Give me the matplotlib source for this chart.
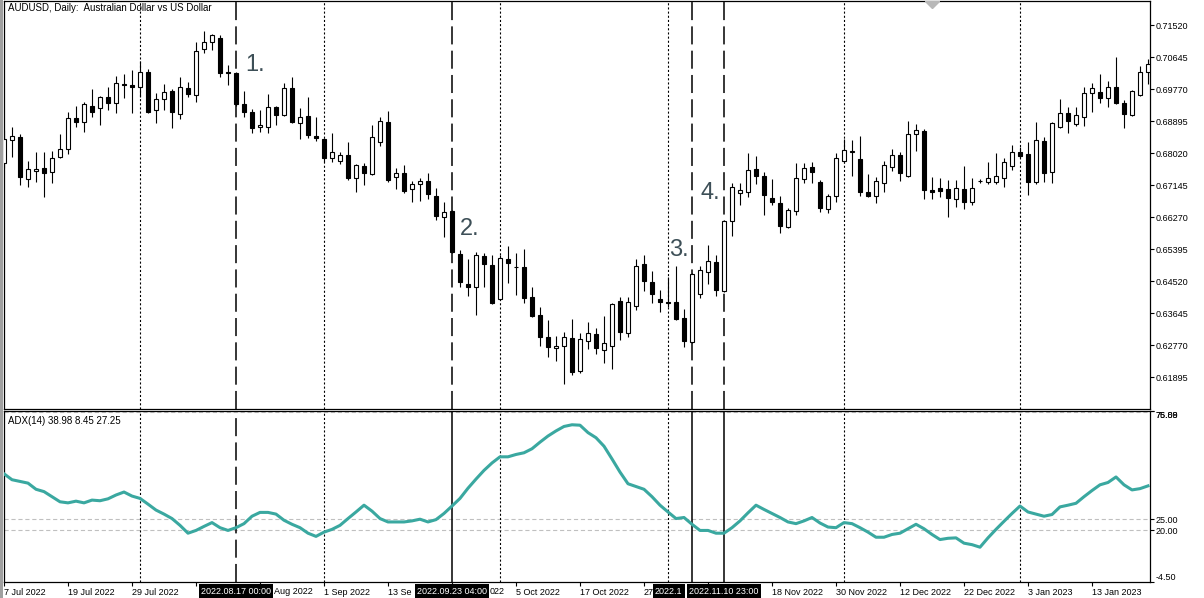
import numpy as np
import pandas as pd
import matplotlib
matplotlib.use("Agg")
import matplotlib.pyplot as plt
import matplotlib.transforms as mtransforms
from matplotlib.patches import Rectangle

plt.rcParams['font.family'] = ['Liberation Sans', 'DejaVu Sans']
plt.rcParams['lines.scale_dashes'] = False

# AUDUSD daily bars, 7 Jul 2022 .. 24 Jan 2023
dates = pd.bdate_range('2022-07-07', periods=144)

opens = [0.6775, 0.6838, 0.6846, 0.6731, 0.6753, 0.6761, 0.6750, 0.6791, 0.6813, 0.6898,
         0.6887, 0.6933, 0.6925, 0.6955, 0.6939, 0.6991, 0.6988, 0.6983, 0.7026, 0.6920,
         0.6950, 0.6972, 0.6909, 0.6980, 0.6961, 0.7089, 0.7106, 0.7119, 0.7024, 0.7021,
         0.6936, 0.6914, 0.6873, 0.6873, 0.6928, 0.6906, 0.6980, 0.6884, 0.6903, 0.6849,
         0.6841, 0.6789, 0.6780, 0.6797, 0.6734, 0.6767, 0.6745, 0.6832, 0.6887, 0.6737,
         0.6748, 0.6704, 0.6718, 0.6726, 0.6685, 0.6628, 0.6644, 0.6526, 0.6444, 0.6436,
         0.6521, 0.6496, 0.6403, 0.6513, 0.6491, 0.6491, 0.6409, 0.6360, 0.6300, 0.6270,
         0.6275, 0.6297, 0.6207, 0.6289, 0.6308, 0.6264, 0.6275, 0.6398, 0.6311, 0.6384,
         0.6499, 0.6450, 0.6403, 0.6395, 0.6395, 0.6352, 0.6286, 0.6417, 0.6477, 0.6505,
         0.6425, 0.6617, 0.6693, 0.6696, 0.6759, 0.6740, 0.6679, 0.6666, 0.6600, 0.6644,
         0.6731, 0.6764, 0.6723, 0.6649, 0.6685, 0.6780, 0.6807, 0.6786, 0.6696, 0.6685,
         0.6720, 0.6764, 0.6797, 0.6740, 0.6854, 0.6862, 0.6701, 0.6707, 0.6704, 0.6677,
         0.6704, 0.6668, 0.6726, 0.6723, 0.6723, 0.6734, 0.6767, 0.6805, 0.6800, 0.6723,
         0.6835, 0.6750, 0.6873, 0.6912, 0.6882, 0.6901, 0.6966, 0.6969, 0.6953, 0.6983,
         0.6939, 0.6906, 0.6961, 0.7026]
highs = [0.6865, 0.6873, 0.6854, 0.6780, 0.6805, 0.6805, 0.6808, 0.6854, 0.6914, 0.6931,
         0.6942, 0.6977, 0.6958, 0.6983, 0.7013, 0.7018, 0.7029, 0.7054, 0.7032, 0.6966,
         0.6991, 0.6977, 0.7010, 0.6996, 0.7106, 0.7136, 0.7130, 0.7127, 0.7043, 0.7024,
         0.6972, 0.6923, 0.6920, 0.6964, 0.6933, 0.6994, 0.7010, 0.6925, 0.6955, 0.6901,
         0.6843, 0.6857, 0.6805, 0.6832, 0.6772, 0.6775, 0.6879, 0.6901, 0.6917, 0.6761,
         0.6770, 0.6726, 0.6734, 0.6748, 0.6707, 0.6668, 0.6647, 0.6537, 0.6513, 0.6532,
         0.6529, 0.6524, 0.6524, 0.6548, 0.6529, 0.6540, 0.6436, 0.6382, 0.6346, 0.6302,
         0.6313, 0.6349, 0.6311, 0.6341, 0.6324, 0.6357, 0.6393, 0.6409, 0.6409, 0.6513,
         0.6524, 0.6480, 0.6428, 0.6464, 0.6494, 0.6376, 0.6474, 0.6494, 0.6551, 0.6524,
         0.6619, 0.6720, 0.6720, 0.6802, 0.6794, 0.6750, 0.6731, 0.6685, 0.6652, 0.6775,
         0.6775, 0.6778, 0.6729, 0.6690, 0.6802, 0.6841, 0.6838, 0.6851, 0.6745, 0.6737,
         0.6780, 0.6813, 0.6805, 0.6892, 0.6882, 0.6868, 0.6737, 0.6734, 0.6729, 0.6729,
         0.6767, 0.6734, 0.6731, 0.6778, 0.6802, 0.6789, 0.6824, 0.6819, 0.6832, 0.6887,
         0.6846, 0.6887, 0.6950, 0.6928, 0.6928, 0.6985, 0.6994, 0.7018, 0.6999, 0.7065,
         0.6947, 0.6976, 0.7040, 0.7059]
lows = [0.6761, 0.6791, 0.6715, 0.6709, 0.6723, 0.6682, 0.6720, 0.6789, 0.6800, 0.6873,
        0.6860, 0.6901, 0.6879, 0.6920, 0.6912, 0.6953, 0.6912, 0.6955, 0.6912, 0.6884,
        0.6920, 0.6871, 0.6895, 0.6955, 0.6944, 0.7076, 0.7084, 0.7010, 0.6988, 0.6933,
        0.6901, 0.6857, 0.6860, 0.6857, 0.6879, 0.6903, 0.6885, 0.6841, 0.6843, 0.6835,
        0.6778, 0.6778, 0.6772, 0.6729, 0.6696, 0.6715, 0.6742, 0.6821, 0.6723, 0.6704,
        0.6693, 0.6668, 0.6671, 0.6677, 0.6619, 0.6573, 0.6529, 0.6436, 0.6412, 0.6360,
        0.6436, 0.6391, 0.6400, 0.6447, 0.6414, 0.6393, 0.6354, 0.6275, 0.6245, 0.6234,
        0.6171, 0.6196, 0.6201, 0.6267, 0.6253, 0.6229, 0.6212, 0.6291, 0.6300, 0.6373,
        0.6425, 0.6393, 0.6368, 0.6382, 0.6346, 0.6272, 0.6283, 0.6406, 0.6444, 0.6412,
        0.6423, 0.6576, 0.6660, 0.6682, 0.6718, 0.6633, 0.6660, 0.6584, 0.6597, 0.6633,
        0.6720, 0.6720, 0.6641, 0.6638, 0.6668, 0.6775, 0.6740, 0.6685, 0.6682, 0.6666,
        0.6696, 0.6753, 0.6726, 0.6738, 0.6808, 0.6677, 0.6677, 0.6682, 0.6628, 0.6655,
        0.6649, 0.6660, 0.6720, 0.6718, 0.6718, 0.6709, 0.6756, 0.6789, 0.6688, 0.6718,
        0.6723, 0.6720, 0.6872, 0.6857, 0.6876, 0.6876, 0.6914, 0.6939, 0.6928, 0.6937,
        0.6871, 0.6904, 0.6959, 0.6991]
closes = [0.6841, 0.6849, 0.6737, 0.6759, 0.6759, 0.6748, 0.6789, 0.6813, 0.6898, 0.6887,
          0.6936, 0.6914, 0.6955, 0.6939, 0.6994, 0.6990, 0.6983, 0.7026, 0.6914, 0.6950,
          0.6969, 0.6914, 0.6985, 0.6964, 0.7081, 0.7106, 0.7127, 0.7021, 0.7021, 0.6936,
          0.6914, 0.6871, 0.6879, 0.6928, 0.6906, 0.6980, 0.6887, 0.6901, 0.6852, 0.6843,
          0.6789, 0.6805, 0.6797, 0.6734, 0.6770, 0.6748, 0.6846, 0.6890, 0.6729, 0.6748,
          0.6699, 0.6718, 0.6726, 0.6690, 0.6630, 0.6641, 0.6532, 0.6450, 0.6436, 0.6524,
          0.6499, 0.6393, 0.6515, 0.6502, 0.6490, 0.6406, 0.6357, 0.6300, 0.6272, 0.6275,
          0.6300, 0.6204, 0.6294, 0.6311, 0.6270, 0.6283, 0.6390, 0.6313, 0.6395, 0.6494,
          0.6453, 0.6417, 0.6395, 0.6394, 0.6349, 0.6289, 0.6472, 0.6483, 0.6507, 0.6428,
          0.6617, 0.6709, 0.6701, 0.6756, 0.6740, 0.6688, 0.6668, 0.6603, 0.6647, 0.6734,
          0.6761, 0.6750, 0.6652, 0.6685, 0.6789, 0.6811, 0.6808, 0.6696, 0.6685, 0.6726,
          0.6770, 0.6797, 0.6748, 0.6854, 0.6865, 0.6701, 0.6696, 0.6699, 0.6679, 0.6707,
          0.6668, 0.6707, 0.6727, 0.6734, 0.6740, 0.6778, 0.6805, 0.6794, 0.6723, 0.6838,
          0.6748, 0.6884, 0.6912, 0.6890, 0.6906, 0.6966, 0.6980, 0.6953, 0.6985, 0.6939,
          0.6909, 0.6974, 0.7026, 0.7046]

# ADX(14) main line
adx = [46.5, 43.7, 42.9, 42.1, 39.2, 38.1, 35.7, 33.3, 32.8, 33.6,
       32.8, 34.1, 33.8, 34.7, 36.5, 37.9, 36.0, 34.9, 32.2, 29.4,
       27.5, 25.4, 22.2, 18.5, 19.8, 21.7, 23.5, 21.1, 19.8, 21.1,
       23.0, 26.5, 28.3, 28.3, 27.5, 24.6, 22.7, 21.1, 18.5, 17.0,
       19.0, 20.3, 22.2, 25.4, 28.5, 31.7, 28.9, 25.4, 23.8, 23.8,
       23.8, 24.3, 25.1, 23.8, 24.9, 27.8, 31.3, 34.9, 39.7, 44.0,
       48.1, 51.6, 54.5, 54.5, 55.6, 56.4, 58.3, 61.4, 64.3, 66.7,
       68.8, 69.6, 69.4, 65.9, 63.5, 59.5, 53.5, 47.3, 41.8, 40.5,
       39.2, 35.7, 31.7, 28.5, 25.4, 25.9, 22.7, 19.8, 19.8, 18.5,
       18.5, 21.1, 24.3, 28.1, 31.7, 29.7, 27.8, 25.9, 23.8, 23.0,
       24.3, 25.9, 23.3, 21.4, 21.1, 23.5, 23.0, 21.1, 19.0, 16.6,
       16.6, 17.9, 18.5, 20.6, 22.7, 20.6, 17.9, 15.5, 16.1, 16.3,
       13.8, 13.1, 11.9, 16.3, 20.3, 24.1, 27.8, 31.3, 28.5, 27.5,
       26.5, 27.3, 30.9, 31.7, 32.6, 35.7, 38.6, 41.3, 42.4, 45.0,
       41.3, 38.9, 39.5, 40.8]

price_ticks = [0.71520, 0.70645, 0.69770, 0.68895, 0.68020, 0.67145,
               0.66270, 0.65395, 0.64520, 0.63645, 0.62770, 0.61895]
adx_ticks = [76.09, 75.88, 25.00, 20.00, -4.50]
adx_levels = [75.6, 25, 20]

sep_idx = [17, 40, 62, 83, 105, 127]          # month separators
mark_idx = [29, 56, 90]                       # marked days (full labels)
mark_text = ['2022.08.17 00:00', '2022.09.23 04:00', '2022.11.10 23:00']
cut_idx = 86                                  # its label is mostly hidden
cut_text = '2022.1'
# date labels that the marked-day boxes cover: only the visible part stays
date_cut = {24: '', 32: '', 48: '13 Se', 56: '', 80: '27', 88: ''}
date_frag = ['Aug 2022', '022']
date_frag_x = [33.75, 60.75]
notes = ['1.', '2.', '3.', '4.']
note_x = [30.2, 57.0, 83.1, 87.1]
note_y = [0.7045, 0.6595, 0.6537, 0.6695]

W, H = 1204, 598


def px_rect(l, t, r, b):
    return [l / W, 1 - b / H, (r - l) / W, (b - t) / H]


fig = plt.figure(figsize=(W / 100, H / 100), dpi=100)
ax = fig.add_axes(px_rect(4, 0.5, 1150, 409))
ax2 = fig.add_axes(px_rect(4, 411, 1150, 582))

fig.add_artist(Rectangle((0, 0), 2.5 / W, 1, transform=fig.transFigure,
                         color='#a0a0a0', lw=0))

o = np.array(opens)
c = np.array(closes)
x = np.arange(len(o))
up = c >= o
bot = np.minimum(o, c)
hgt = np.abs(c - o)

ax.vlines(x, lows, highs, color='black', lw=0.8, zorder=2)
ax.bar(x[up], hgt[up], bottom=bot[up], width=0.45, facecolor='white',
       edgecolor='black', lw=0.8, zorder=3)
ax.bar(x[~up], hgt[~up], bottom=bot[~up], width=0.45, facecolor='black',
       edgecolor='black', lw=0.8, zorder=3)

ax.set_xlim(0, 143.25)
ax.set_ylim(0.61029, 0.72203)
ax.plot([116], [0.72203], marker='D', ms=7, color='#b8b8b8', zorder=5)

ax2.plot(x, adx, color='#3aa8a0', lw=2.2, zorder=3)
for lv in adx_levels:
    ax2.axhline(lv, color='#c0c0c0', lw=0.8, ls=(0, (3, 2)), zorder=1)
ax2.set_xlim(0, 143.25)
ax2.set_ylim(-4.5, 76.09)

for a in (ax, ax2):
    for i in sep_idx:
        a.axvline(i, color='black', lw=0.8, ls=(0, (1.5, 1.5)), zorder=1)
for i in mark_idx + [cut_idx]:
    ax.axvline(i, color='black', lw=1.1, ls=(0, (13, 4.5)), zorder=1)
    if i == mark_idx[0]:
        ax2.axvline(i, color='black', lw=1.1, ls=(0, (13, 4.5)), zorder=1)
    else:
        ax2.axvline(i, color='black', lw=1.1, zorder=1)

for a in (ax, ax2):
    for s in a.spines.values():
        s.set_color('black')
        s.set_linewidth(0.9)
    a.yaxis.tick_right()
    a.tick_params(axis='y', direction='out', length=3, width=0.8, pad=1,
                  labelsize=6.5)

ax.tick_params(axis='x', bottom=False, labelbottom=False)
ax.set_yticks(price_ticks)
ax.set_yticklabels([f'{v:.5f}' for v in price_ticks])

ax2.set_yticks(adx_ticks)
ax2.set_yticklabels([f'{v:.2f}' for v in adx_ticks])
for lab, v in zip(ax2.get_yticklabels(), adx_ticks):
    if v > 70:
        lab.set_va('top')
    elif v < 0:
        lab.set_va('bottom')

tick_pos = list(range(0, len(dates), 8))
tick_lab = [date_cut.get(i, f'{dates[i].day} {dates[i]:%b %Y}') for i in tick_pos]
ax2.set_xticks(tick_pos)
ax2.set_xticklabels(tick_lab, ha='left')
ax2.tick_params(axis='x', direction='out', length=3, width=0.8, pad=1,
                labelsize=6.5)

trans = mtransforms.blended_transform_factory(ax2.transData, ax2.transAxes)
ylab = -(591 - 582) / 171
for s, fx in zip(date_frag, date_frag_x):
    ax2.text(fx, ylab, s, transform=trans, ha='left', va='center',
             fontsize=6.5, clip_on=False)
box = dict(facecolor='black', edgecolor='none', pad=1.6)
ax2.text((655 - 4) / 8, ylab, cut_text, transform=trans, ha='left',
         va='center', color='white', fontsize=6.5, zorder=10, clip_on=False,
         bbox=box)
for i, s in zip(mark_idx, mark_text):
    ax2.text(i, ylab, s, transform=trans, ha='center', va='center',
             color='white', fontsize=6.5, zorder=10, clip_on=False, bbox=box)

for s, nx, ny in zip(notes, note_x, note_y):
    ax.text(nx, ny, s, fontsize=17, color='#3d4f57', ha='left', va='center',
            zorder=6)

fig.text(8 / W, 1 - 8 / H, 'AUDUSD, Daily:  Australian Dollar vs US Dollar',
         fontsize=7, va='center', ha='left')
fig.text(8 / W, 1 - 421 / H, 'ADX(14) 38.98 8.45 27.25',
         fontsize=7, va='center', ha='left')

fig.savefig('out.png', dpi=100, facecolor='white')
